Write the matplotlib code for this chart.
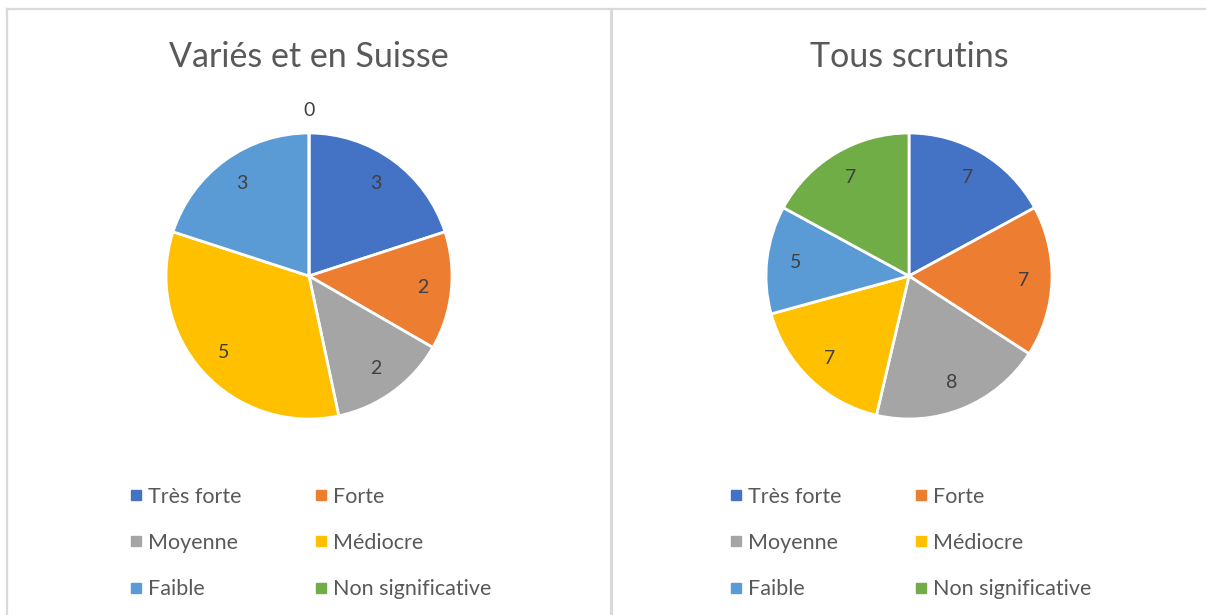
import matplotlib
matplotlib.use("Agg")
import matplotlib.pyplot as plt
from matplotlib.lines import Line2D
import numpy as np

categories = ["Très forte", "Forte", "Moyenne", "Médiocre", "Faible", "Non significative"]
colors = ["#4472C4", "#ED7D31", "#A5A5A5", "#FFC000", "#5B9BD5", "#70AD47"]
left_title = "Variés et en Suisse"
left_values = [3, 2, 2, 5, 3, 0]
right_title = "Tous scrutins"
right_values = [7, 7, 8, 7, 5, 7]

plt.rcParams['font.family'] = ['Lato', 'DejaVu Sans']
W, H = 1206, 615
fig = plt.figure(figsize=(W / 100, H / 100), dpi=100)

def px_axes(x0, y0, x1, y1):
    return fig.add_axes([x0 / W, 1 - y1 / H, (x1 - x0) / W, (y1 - y0) / H])

# panel borders
border = fig.add_axes([0, 0, 1, 1])
border.set_xlim(0, W)
border.set_ylim(H, 0)
border.axis("off")
bc = "#D9D9D9"
border.plot([7, 7], [9, H], color=bc, lw=1.6)
border.plot([7, W], [9, 9], color=bc, lw=1.6)
border.plot([610.5, 610.5], [9, H], color=bc, lw=2.2)

def draw(cx, title, values):
    r = 143
    ax = px_axes(cx - r, 276 - r, cx + r, 276 + r)
    wedges, _ = ax.pie(values, colors=colors, startangle=90, counterclock=False,
                       radius=1, wedgeprops=dict(edgecolor="white", linewidth=2))
    ax.set_xlim(-1, 1)
    ax.set_ylim(-1, 1)
    ax.set_aspect("auto")
    for w, v in zip(wedges, values):
        ang = np.deg2rad((w.theta1 + w.theta2) / 2)
        d = 0.8 if v > 0 else 1.16
        ax.text(d * np.cos(ang), d * np.sin(ang), str(v), ha="center", va="center",
                fontsize=14, color="#404040", clip_on=False)
    fig.text(cx / W, 1 - 57 / H, title, ha="center", va="center", fontsize=24.5, color="#595959")
    handles = [Line2D([], [], marker="s", linestyle="none", markersize=6.5,
                      markerfacecolor=c, markeredgecolor=c) for c in colors]
    order = [0, 2, 4, 1, 3, 5]
    fig.legend([handles[i] for i in order], [categories[i] for i in order], ncol=2,
               loc="center", bbox_to_anchor=((cx + 2) / W, 1 - 543 / H),
               frameon=False, fontsize=15.5, labelcolor="#595959",
               handlelength=0.5, handletextpad=0.3, columnspacing=3.45,
               labelspacing=1.22)

draw(309, left_title, left_values)
draw(909, right_title, right_values)

fig.savefig("out.png", dpi=100, facecolor="white")
